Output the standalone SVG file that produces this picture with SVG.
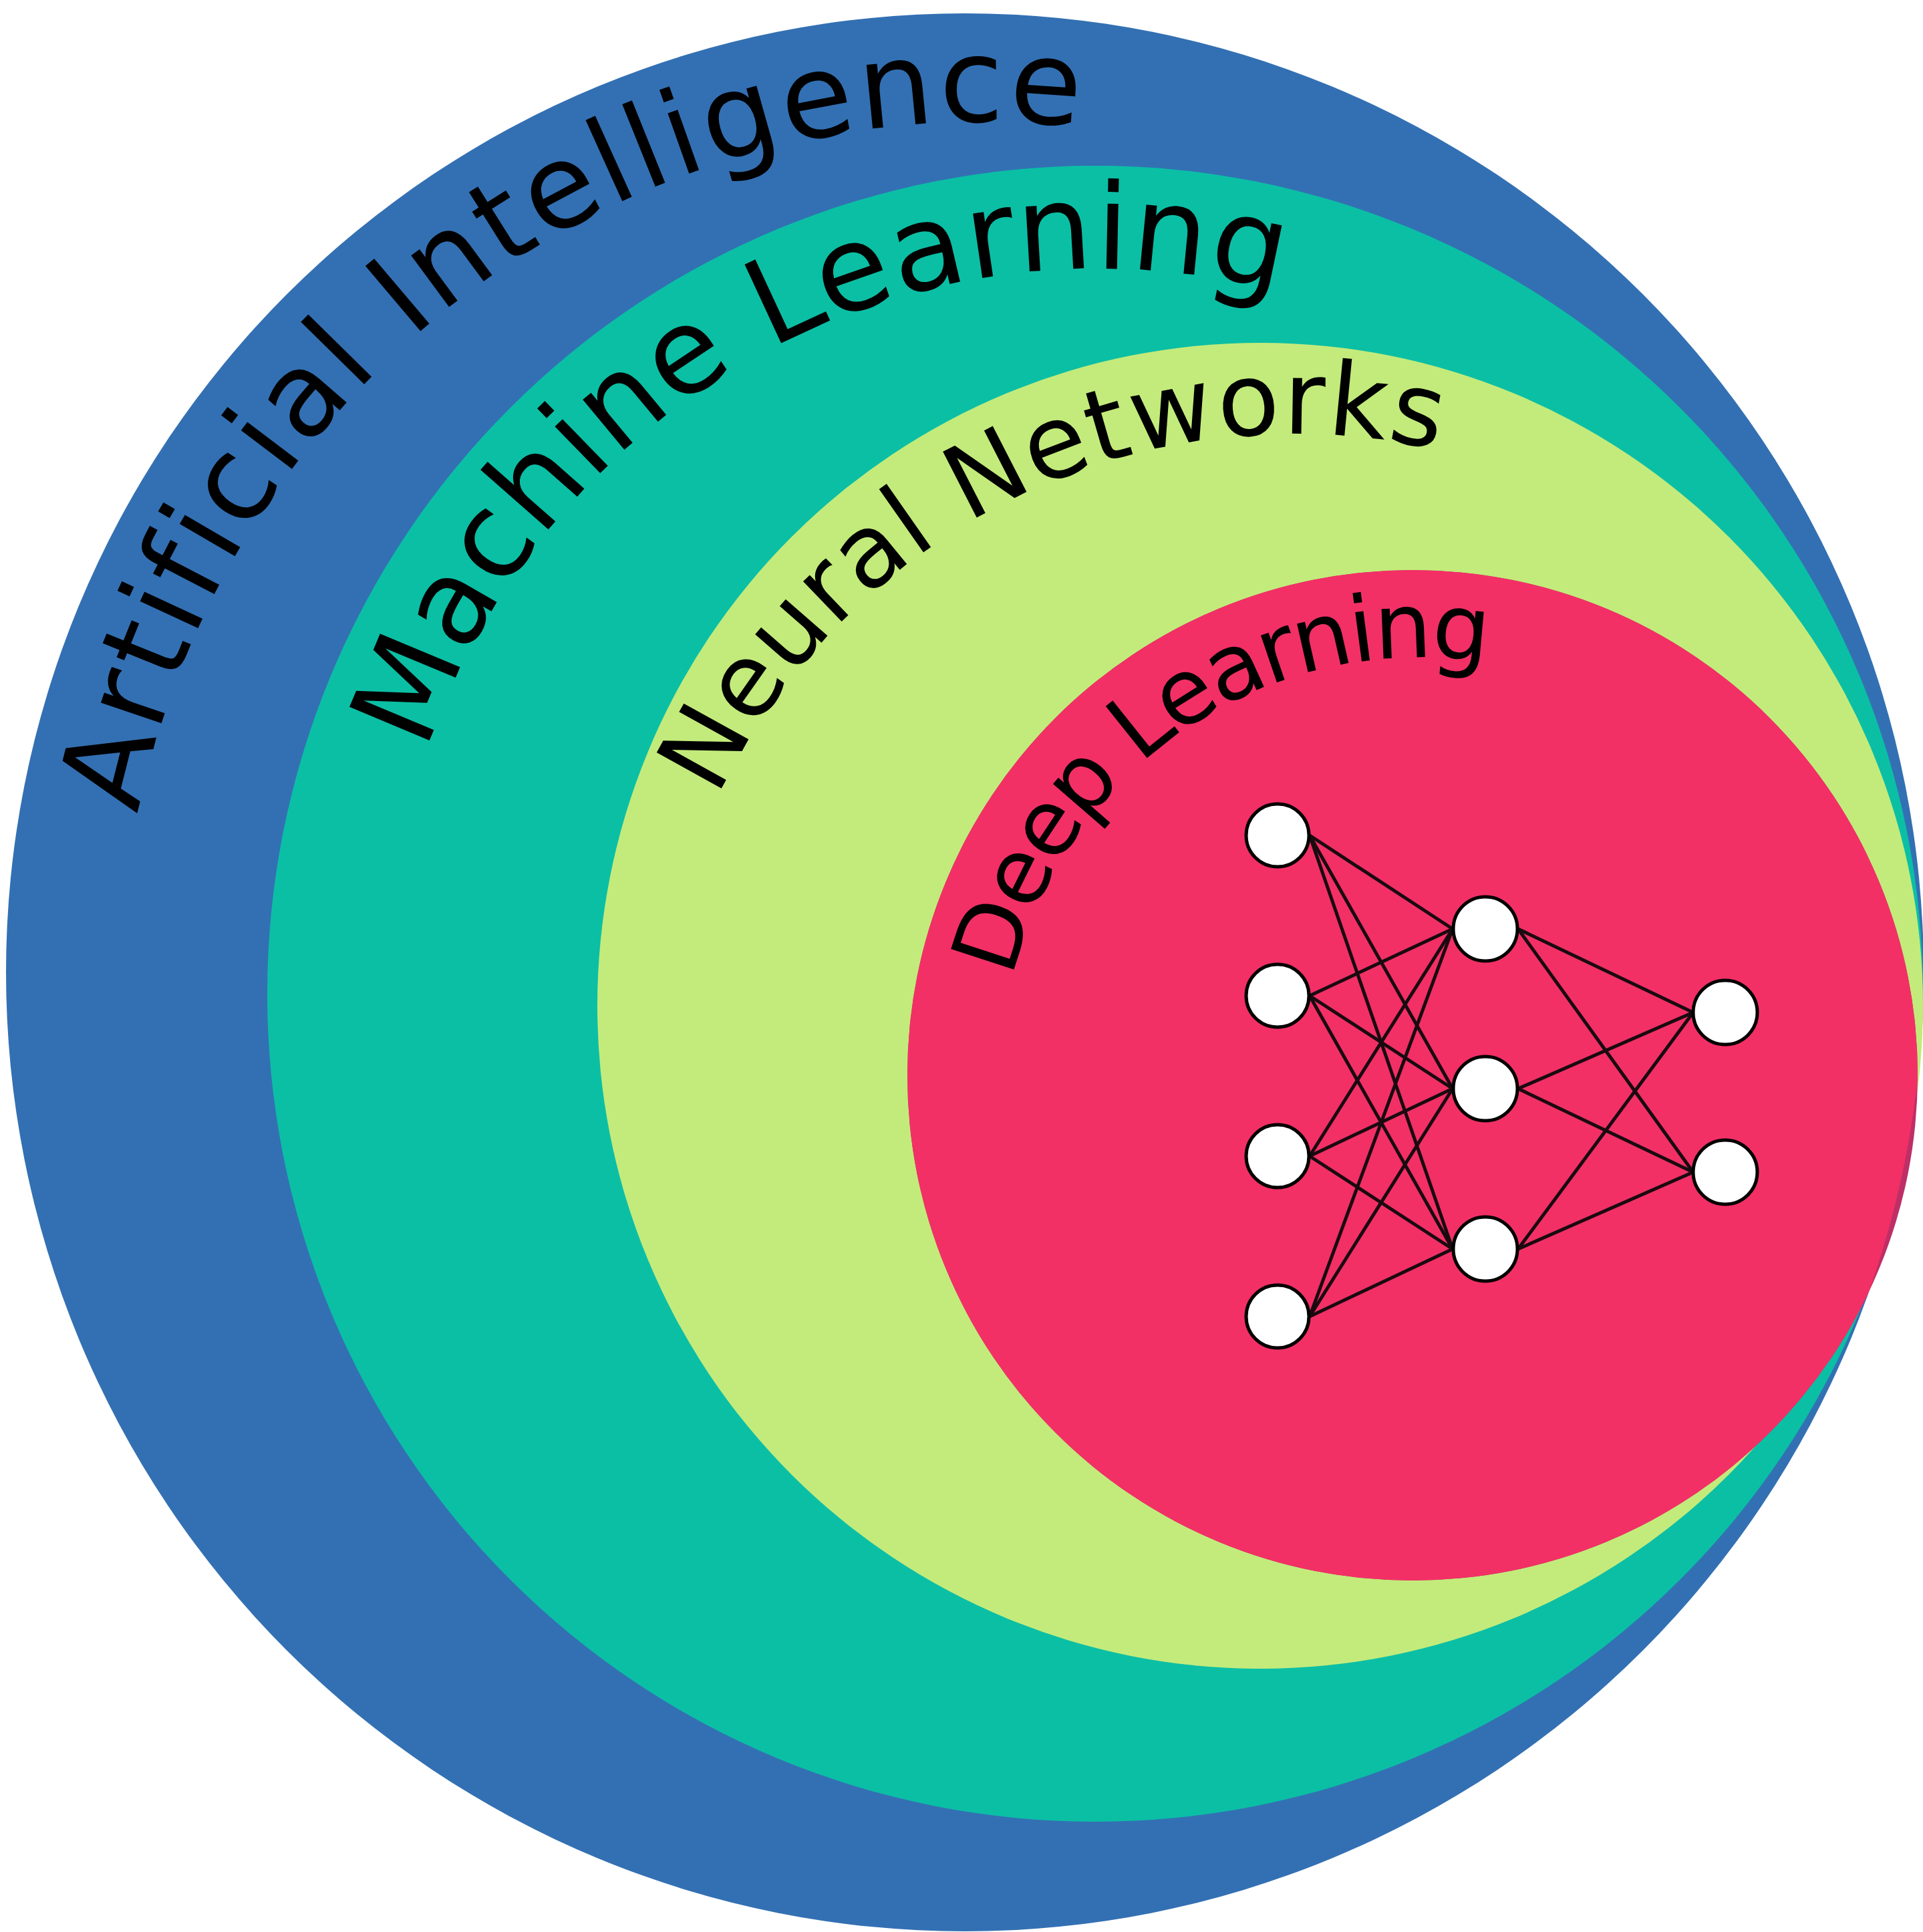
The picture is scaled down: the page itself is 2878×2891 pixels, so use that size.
<svg xmlns="http://www.w3.org/2000/svg" width="2878" height="2891" viewBox="0 0 2878 2891">
<style>
.lbl{font-family:"DejaVu Sans","Liberation Sans",sans-serif;fill:#000;}
.conn line{stroke:#1a0a10;stroke-width:5;stroke-linecap:round;}
.neuron{fill:#ffffff;stroke:#000;stroke-width:5;}
</style>
<defs>
<clipPath id="blueClip"><circle cx="1444" cy="1455" r="1435"/></clipPath>
<path id="pAI" d="M 206.5 1218.6 A 1292 1292 0 0 1 2327.4 504.9"/>
<path id="pML" d="M 638.7 1125.0 A 1059 1059 0 0 1 2436.2 759.3"/>
<path id="pNN" d="M 1074.1 1193.4 A 956 956 0 0 1 2724.8 1063.5"/>
<path id="pDL" d="M 1515.3 1463.9 A 626 626 0 0 1 2558.9 1159.7"/>
</defs>
<rect width="2878" height="2891" fill="#ffffff"/>
<g id="artificial-intelligence">
<circle cx="1444" cy="1455" r="1435" fill="#3370b3"/>
<text class="lbl" font-size="175" letter-spacing="5.5"><textPath href="#pAI">Artificial Intelligence</textPath></text>
</g>
<g id="machine-learning">
<circle cx="1639" cy="1487" r="1239" fill="#0bbfa5"/>
<text class="lbl" font-size="178" letter-spacing="1.4"><textPath href="#pML">Machine Learning</textPath></text>
</g>
<g id="neural-networks">
<circle cx="1886" cy="1505" r="992" fill="#c3eb7b"/>
<text class="lbl" font-size="152" letter-spacing="2.1"><textPath href="#pNN">Neural Networks</textPath></text>
</g>
<g id="deep-learning">
<circle cx="2114" cy="1609" r="756" fill="#bd2f66"/>
<circle cx="2114" cy="1609" r="756" fill="#f23066" clip-path="url(#blueClip)"/>
<text class="lbl" font-size="136" letter-spacing="-4.5"><textPath href="#pDL">Deep Learning</textPath></text>
</g>
<g id="connectors" class="conn">
<line x1="1960" y1="1250" x2="2174" y2="1390"/>
<line x1="1960" y1="1250" x2="2174" y2="1629"/>
<line x1="1960" y1="1250" x2="2174" y2="1869"/>
<line x1="1960" y1="1490" x2="2174" y2="1390"/>
<line x1="1960" y1="1490" x2="2174" y2="1629"/>
<line x1="1960" y1="1490" x2="2174" y2="1869"/>
<line x1="1960" y1="1730" x2="2174" y2="1390"/>
<line x1="1960" y1="1730" x2="2174" y2="1629"/>
<line x1="1960" y1="1730" x2="2174" y2="1869"/>
<line x1="1960" y1="1970" x2="2174" y2="1390"/>
<line x1="1960" y1="1970" x2="2174" y2="1629"/>
<line x1="1960" y1="1970" x2="2174" y2="1869"/>
<line x1="2272" y1="1390" x2="2534" y2="1515"/>
<line x1="2272" y1="1390" x2="2534" y2="1754"/>
<line x1="2272" y1="1629" x2="2534" y2="1515"/>
<line x1="2272" y1="1629" x2="2534" y2="1754"/>
<line x1="2272" y1="1869" x2="2534" y2="1515"/>
<line x1="2272" y1="1869" x2="2534" y2="1754"/>
</g>
<g id="input-1"><circle class="neuron" cx="1912" cy="1250" r="47"/></g>
<g id="input-2"><circle class="neuron" cx="1912" cy="1490" r="47"/></g>
<g id="input-3"><circle class="neuron" cx="1912" cy="1730" r="47"/></g>
<g id="input-4"><circle class="neuron" cx="1912" cy="1970" r="47"/></g>
<g id="hidden-1"><circle class="neuron" cx="2223" cy="1390" r="48"/></g>
<g id="hidden-2"><circle class="neuron" cx="2223" cy="1629" r="48"/></g>
<g id="hidden-3"><circle class="neuron" cx="2223" cy="1869" r="48"/></g>
<g id="output-1"><circle class="neuron" cx="2582" cy="1515" r="48"/></g>
<g id="output-2"><circle class="neuron" cx="2582" cy="1754" r="48"/></g>
</svg>
